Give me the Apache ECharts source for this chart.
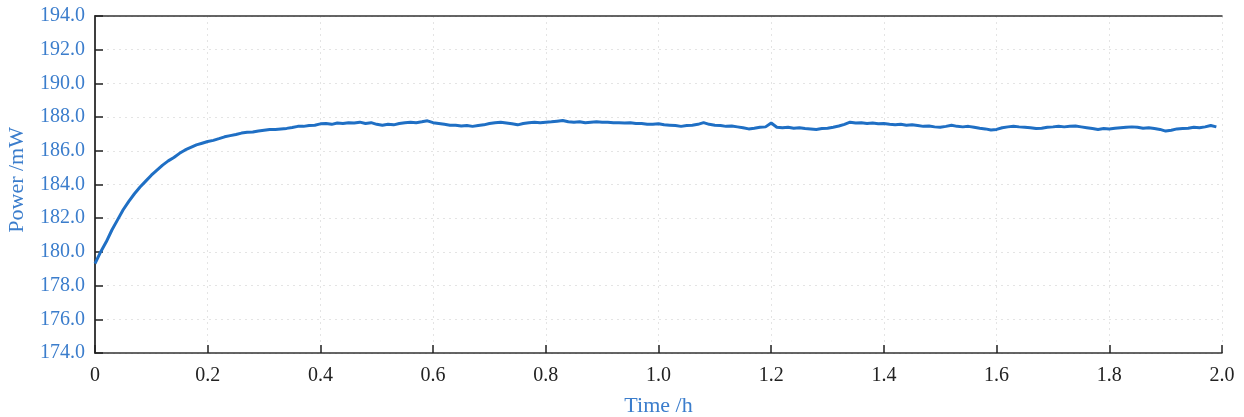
<!DOCTYPE html>
<html>
<head>
<meta charset="utf-8">
<title>Power vs Time</title>
<script src="https://cdn.jsdelivr.net/npm/echarts@6/dist/echarts.min.js"></script>
<style>
  html, body { margin: 0; padding: 0; background: #ffffff; }
  #chart { width: 1244px; height: 417px; }
</style>
</head>
<body>
<div id="chart"></div>
<script>
// Output power sampled every 0.01 h, from t = 0 to t = 1.99 h
const sampleStep = 0.01;
const powerMW = [
  179.30, 180.00, 180.60, 181.30, 181.90, 182.50, 183.00, 183.45, 183.85, 184.20,
  184.55, 184.85, 185.15, 185.40, 185.60, 185.85, 186.05, 186.20, 186.35, 186.45,
  186.55, 186.62, 186.72, 186.83, 186.90, 186.97, 187.05, 187.10, 187.12, 187.18,
  187.22, 187.26, 187.27, 187.30, 187.33, 187.38, 187.45, 187.45, 187.50, 187.52,
  187.60, 187.62, 187.57, 187.65, 187.62, 187.67, 187.65, 187.70, 187.62, 187.67,
  187.57, 187.52, 187.57, 187.54, 187.62, 187.67, 187.70, 187.67, 187.72, 187.78,
  187.67, 187.62, 187.57, 187.52, 187.52, 187.47, 187.50, 187.45, 187.50, 187.54,
  187.62, 187.67, 187.70, 187.65, 187.60, 187.54, 187.62, 187.67, 187.70, 187.67,
  187.70, 187.72, 187.76, 187.80, 187.72, 187.70, 187.72, 187.67, 187.70, 187.72,
  187.70, 187.70, 187.67, 187.67, 187.65, 187.67, 187.62, 187.62, 187.57, 187.57,
  187.60, 187.54, 187.52, 187.50, 187.45, 187.50, 187.52, 187.57, 187.67, 187.57,
  187.52, 187.50, 187.45, 187.47, 187.42, 187.37, 187.30, 187.34, 187.40, 187.42,
  187.65, 187.40, 187.37, 187.40, 187.34, 187.37, 187.32, 187.30, 187.27, 187.32,
  187.34, 187.40, 187.47, 187.57, 187.70, 187.65, 187.67, 187.62, 187.65, 187.60,
  187.62, 187.57, 187.54, 187.57, 187.52, 187.54, 187.50, 187.45, 187.47, 187.42,
  187.40, 187.45, 187.52, 187.45, 187.42, 187.45, 187.40, 187.34, 187.30, 187.24,
  187.27, 187.37, 187.42, 187.45, 187.42, 187.40, 187.37, 187.32, 187.34, 187.40,
  187.42, 187.45, 187.42, 187.45, 187.47, 187.42, 187.37, 187.32, 187.27, 187.32,
  187.30, 187.34, 187.37, 187.40, 187.42, 187.40, 187.34, 187.37, 187.32, 187.27,
  187.17, 187.22, 187.30, 187.32, 187.34, 187.40, 187.37, 187.42, 187.50, 187.42
];

// Axis ranges and tick spacing
const timeRange = [0, 2.0];
const timeTickStep = 0.2;
const powerRange = [174, 194];
const powerTickStep = 2;

const seriesData = powerMW.map((p, i) => [+(i * sampleStep).toFixed(2), p]);

const blue = '#3b7dcc';
const ink = '#222222';
const frame = '#333333';
const serif = '"Liberation Serif", "DejaVu Serif", serif';

const gridBox = { left: 95, right: 22, top: 16, bottom: 64 };

const chart = echarts.init(document.getElementById('chart'), null, { renderer: 'canvas' });

// Thin axes on the top and right edges close the frame above the dotted grid
const frameAxis = {
  show: true,
  axisLine: { show: true, lineStyle: { color: frame, width: 1.5 } },
  axisTick: { show: false },
  axisLabel: { show: false },
  splitLine: { show: false }
};

chart.setOption({
  backgroundColor: '#ffffff',
  animation: false,
  grid: Object.assign({ show: false, containLabel: false, outerBoundsMode: 'none' }, gridBox),
  xAxis: [{
    type: 'value',
    min: timeRange[0],
    max: timeRange[1],
    interval: timeTickStep,
    name: 'Time /h',
    nameLocation: 'middle',
    nameGap: 42,
    nameTextStyle: { color: blue, fontFamily: serif, fontSize: 22 },
    axisLine: { show: true, lineStyle: { color: frame, width: 1.5 } },
    axisTick: { show: true, inside: true, length: 8, lineStyle: { color: ink, width: 1.5 } },
    axisLabel: {
      color: ink, fontFamily: serif, fontSize: 20, margin: 13,
      formatter: v => (v === 0 ? '0' : v.toFixed(1))
    },
    splitLine: { show: true, lineStyle: { color: '#e4e4e4', type: [2, 4], width: 1 } }
  }, Object.assign({}, frameAxis, {
    type: 'value', position: 'top',
    min: timeRange[0], max: timeRange[1], interval: timeTickStep
  })],
  yAxis: [{
    type: 'value',
    min: powerRange[0],
    max: powerRange[1],
    interval: powerTickStep,
    axisLine: { show: true, lineStyle: { color: frame, width: 1.5 } },
    axisTick: { show: true, inside: true, length: 8, lineStyle: { color: ink, width: 1.5 } },
    axisLabel: {
      color: blue, fontFamily: serif, fontSize: 20, margin: 10,
      formatter: v => v.toFixed(1)
    },
    splitLine: { show: true, lineStyle: { color: '#e4e4e4', type: [2, 4], width: 1 } }
  }, Object.assign({}, frameAxis, {
    type: 'value', position: 'right',
    min: powerRange[0], max: powerRange[1], interval: powerTickStep
  })],
  graphic: [{
    type: 'text',
    left: 6,
    top: 127,
    rotation: Math.PI / 2,
    style: {
      text: 'Power /mW',
      fill: blue,
      font: '22px ' + serif
    }
  }],
  series: [{
    type: 'line',
    data: seriesData,
    showSymbol: false,
    smooth: false,
    lineStyle: { color: '#1f6fc4', width: 3 },
    z: 3
  }]
});
</script>
</body>
</html>
